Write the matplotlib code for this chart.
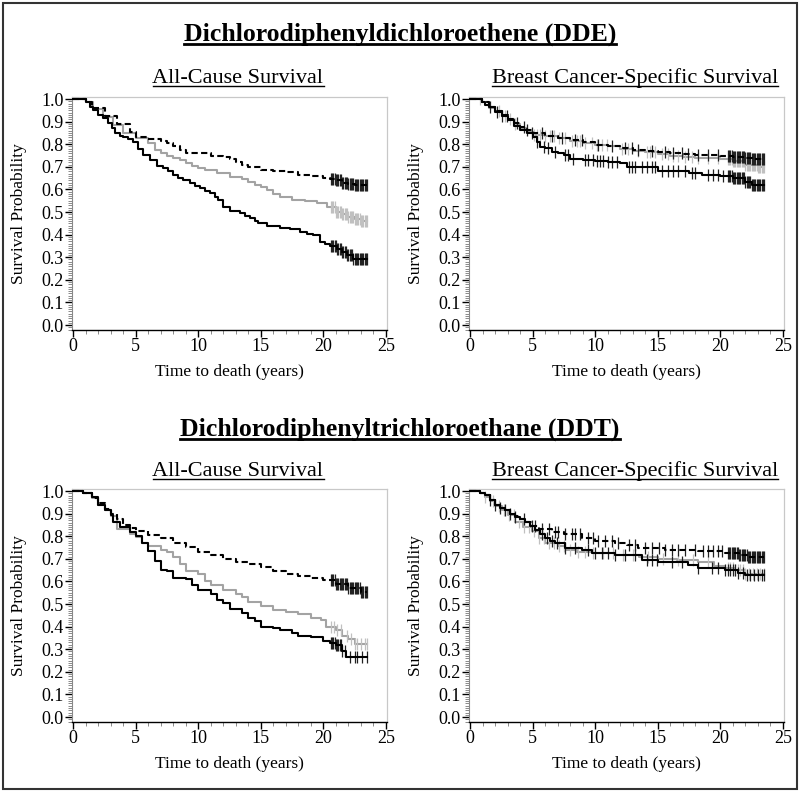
import numpy as np
import matplotlib
matplotlib.use("Agg")
import matplotlib.pyplot as plt
from matplotlib.lines import Line2D
from matplotlib.patches import Rectangle
from matplotlib.ticker import MultipleLocator, FormatStrFormatter

plt.rcParams["font.family"] = ["Liberation Serif", "DejaVu Serif"]

# ---- data (time in years, survival probability) ----
follow_up_end = 23.5

# DDE, all-cause survival
dde_acs_black_t = [0, 1.0, 1.3, 1.6, 2.0, 2.4, 2.8, 3.1, 3.3, 3.7, 4.0, 4.4, 4.8, 5.2, 5.6, 6.1, 6.7, 7.2, 7.6, 8.0,
                   8.4, 8.8, 9.3, 9.7, 10.1, 10.5, 10.9, 11.3, 11.6, 12.0, 12.5, 13.3, 13.7, 14.1, 14.5, 14.8, 15.5,
                   16.5, 17.3, 18.1, 18.7, 19.2, 19.7, 20.1, 20.5, 21.1, 21.5, 21.9, 22.4]
dde_acs_black_s = [1.0, 0.985, 0.965, 0.95, 0.93, 0.914, 0.895, 0.87, 0.848, 0.838, 0.833, 0.822, 0.811, 0.78, 0.752,
                   0.73, 0.705, 0.696, 0.68, 0.664, 0.652, 0.642, 0.63, 0.617, 0.605, 0.594, 0.583, 0.568, 0.553,
                   0.524, 0.506, 0.494, 0.483, 0.472, 0.46, 0.45, 0.438, 0.43, 0.423, 0.41, 0.404, 0.398, 0.369,
                   0.36, 0.35, 0.335, 0.322, 0.31, 0.29]
dde_acs_gray_t = [0, 1.0, 1.6, 2.4, 3.2, 4.0, 5.0, 6.0, 6.5, 7.0, 7.5, 8.0, 8.5, 9.0, 9.5, 10.0, 10.5, 11.5, 12.5,
                  13.5, 14.0, 14.5, 15.0, 15.5, 16.0, 16.5, 17.5, 18.5, 19.5, 20.3, 21.0, 21.5, 22.0, 22.5, 23.0]
dde_acs_gray_s = [1.0, 0.985, 0.955, 0.92, 0.885, 0.848, 0.826, 0.804, 0.774, 0.762, 0.748, 0.74, 0.73, 0.718, 0.705,
                  0.695, 0.686, 0.674, 0.656, 0.645, 0.635, 0.619, 0.61, 0.597, 0.58, 0.565, 0.553, 0.549, 0.538,
                  0.524, 0.501, 0.49, 0.48, 0.47, 0.462]
dde_acs_dash_t = [0, 1.0, 1.5, 2.5, 3.5, 4.5, 5.0, 6.0, 7.0, 7.5, 8.0, 8.5, 9.0, 10.0, 11.0, 12.0, 12.5, 13.0, 13.5,
                  14.0, 15.0, 16.0, 17.0, 18.0, 19.0, 20.0, 20.5, 21.0, 21.5, 22.0, 22.5]
dde_acs_dash_s = [1.0, 0.985, 0.96, 0.925, 0.89, 0.855, 0.833, 0.822, 0.815, 0.805, 0.79, 0.775, 0.762, 0.76, 0.748,
                  0.742, 0.735, 0.72, 0.71, 0.70, 0.688, 0.683, 0.675, 0.665, 0.66, 0.652, 0.645, 0.64, 0.63, 0.625,
                  0.618]

# DDE, breast cancer-specific survival
dde_bc_black_t = [0, 0.9, 1.2, 1.5, 2.0, 2.5, 3.0, 3.5, 4.0, 4.5, 5.0, 5.3, 5.6, 6.0, 6.5, 7.0, 7.5, 8.0, 9.0, 10.0,
                  11.0, 12.0, 12.5, 14.0, 15.0, 17.5, 18.5, 20.0, 21.0, 22.0, 22.5]
dde_bc_black_s = [1.0, 0.985, 0.975, 0.966, 0.944, 0.925, 0.907, 0.88, 0.863, 0.851, 0.833, 0.81, 0.789, 0.782,
                  0.767, 0.76, 0.752, 0.735, 0.73, 0.727, 0.723, 0.715, 0.70, 0.698, 0.681, 0.674, 0.664, 0.659,
                  0.649, 0.634, 0.62]
dde_bc_gray_t = [0, 0.9, 1.5, 2.0, 2.5, 3.0, 3.5, 4.0, 4.5, 5.0, 6.0, 7.0, 8.0, 9.0, 10.0, 11.0, 12.0, 13.0, 14.0,
                 15.0, 16.0, 17.0, 18.0, 19.0, 20.0, 21.0, 22.0, 23.0]
dde_bc_gray_s = [1.0, 0.985, 0.962, 0.945, 0.925, 0.91, 0.89, 0.87, 0.855, 0.84, 0.835, 0.828, 0.815, 0.805, 0.795,
                 0.79, 0.78, 0.77, 0.765, 0.755, 0.75, 0.745, 0.74, 0.738, 0.733, 0.725, 0.71, 0.70]
dde_bc_dash_t = [0, 0.9, 1.5, 2.0, 2.5, 3.0, 3.5, 4.0, 4.5, 5.0, 6.0, 7.0, 8.0, 9.0, 10.0, 11.0, 12.0, 13.0, 14.0,
                 15.0, 16.0, 17.0, 18.0, 20.0, 21.0, 22.0, 22.5]
dde_bc_dash_s = [1.0, 0.985, 0.965, 0.948, 0.93, 0.912, 0.895, 0.878, 0.865, 0.85, 0.835, 0.828, 0.818, 0.81, 0.798,
                 0.792, 0.785, 0.775, 0.77, 0.764, 0.76, 0.756, 0.752, 0.75, 0.745, 0.74, 0.735]

# DDT, all-cause survival
ddt_acs_black_t = [0, 0.8, 1.5, 2.0, 2.5, 3.0, 3.2, 3.7, 4.5, 5.0, 5.5, 6.0, 6.5, 7.0, 7.5, 8.0, 9.0, 9.5, 10.0, 11.0,
                   11.5, 12.0, 12.5, 13.5, 14.0, 14.5, 15.0, 16.0, 16.5, 17.5, 18.0, 19.0, 20.0, 20.5, 21.0, 21.5,
                   21.8]
ddt_acs_black_s = [1.0, 0.99, 0.975, 0.938, 0.916, 0.894, 0.865, 0.84, 0.817, 0.80, 0.77, 0.735, 0.69, 0.652, 0.645,
                   0.616, 0.611, 0.586, 0.562, 0.543, 0.52, 0.506, 0.477, 0.462, 0.44, 0.425, 0.40, 0.396, 0.386,
                   0.374, 0.359, 0.352, 0.337, 0.326, 0.318, 0.29, 0.264]
ddt_acs_gray_t = [0, 0.8, 1.5, 2.0, 2.5, 3.0, 3.5, 4.5, 5.0, 5.5, 6.0, 7.0, 7.5, 8.0, 8.5, 9.0, 10.0, 10.5, 11.0, 12.0,
                  13.0, 13.5, 14.0, 15.0, 16.0, 17.0, 18.0, 19.0, 19.8, 20.2, 21.0, 21.5, 22.0, 22.5]
ddt_acs_gray_s = [1.0, 0.99, 0.97, 0.94, 0.915, 0.89, 0.83, 0.81, 0.795, 0.77, 0.757, 0.74, 0.73, 0.71, 0.675, 0.645,
                  0.635, 0.60, 0.585, 0.56, 0.545, 0.53, 0.51, 0.49, 0.475, 0.465, 0.455, 0.44, 0.43, 0.40, 0.385,
                  0.36, 0.345, 0.325]
ddt_acs_dash_t = [0, 0.8, 1.5, 2.0, 2.5, 3.0, 3.5, 4.0, 4.5, 5.0, 6.0, 7.0, 8.0, 9.0, 10.0, 11.0, 12.0, 13.0, 14.0,
                  15.0, 16.0, 17.0, 18.0, 19.0, 20.0, 21.0, 22.0, 23.0]
ddt_acs_dash_s = [1.0, 0.99, 0.97, 0.945, 0.92, 0.9, 0.875, 0.85, 0.835, 0.822, 0.805, 0.79, 0.772, 0.752, 0.73,
                  0.715, 0.70, 0.688, 0.675, 0.662, 0.648, 0.635, 0.625, 0.615, 0.605, 0.59, 0.57, 0.555]

# DDT, breast cancer-specific survival
ddt_bc_black_t = [0, 0.8, 1.2, 1.6, 2.0, 2.4, 2.8, 3.2, 3.6, 4.0, 4.4, 4.8, 5.2, 5.6, 6.0, 6.4, 6.8, 7.6, 8.9, 9.7,
                  11.6, 13.7, 15.0, 17.4, 18.2, 20.4, 21.4, 22.0]
ddt_bc_black_s = [1.0, 0.99, 0.982, 0.96, 0.938, 0.925, 0.916, 0.9, 0.887, 0.875, 0.865, 0.845, 0.828, 0.81, 0.792,
                  0.78, 0.77, 0.748, 0.74, 0.726, 0.716, 0.696, 0.686, 0.674, 0.66, 0.652, 0.638, 0.627]
ddt_bc_gray_t = [0, 0.8, 1.2, 1.6, 2.0, 2.5, 3.0, 3.6, 4.2, 4.9, 5.5, 6.0, 7.0, 7.6, 8.5, 9.7, 11.6, 13.5, 15.0,
                 16.5, 18.2, 19.5, 20.4, 21.2, 22.0]
ddt_bc_gray_s = [1.0, 0.99, 0.975, 0.955, 0.935, 0.915, 0.895, 0.865, 0.84, 0.821, 0.79, 0.77, 0.755, 0.74, 0.732,
                 0.726, 0.718, 0.71, 0.70, 0.695, 0.686, 0.67, 0.66, 0.65, 0.635]
ddt_bc_dash_t = [0, 0.8, 1.2, 1.6, 2.0, 2.4, 2.8, 3.2, 3.6, 4.0, 4.4, 4.9, 5.5, 6.5, 7.5, 8.9, 10.0, 11.6, 12.5,
                 13.4, 15.6, 18.2, 20.4, 21.5, 22.2]
ddt_bc_dash_s = [1.0, 0.99, 0.982, 0.96, 0.94, 0.926, 0.917, 0.9, 0.89, 0.875, 0.862, 0.845, 0.83, 0.82, 0.81,
                 0.792, 0.78, 0.77, 0.76, 0.748, 0.74, 0.735, 0.726, 0.718, 0.71]

# censoring times
admin_cens = [20.6, 20.7, 20.8, 20.9, 21.0, 21.1, 21.2, 21.3, 21.4, 21.5, 21.6, 21.7, 21.8, 21.9, 22.0,
              22.1, 22.2, 22.3, 22.4, 22.5, 22.6, 22.7, 22.8, 22.9, 23.0, 23.1, 23.2, 23.3, 23.4, 23.5]
ddt_acs_black_cens = [20.6, 20.7, 20.8, 20.9, 21.0, 21.1, 21.2, 21.3, 21.4, 21.5, 21.7, 22.1, 22.5, 22.7, 23.1, 23.5]
ddt_acs_gray_cens = [20.6, 20.85, 21.1, 21.4, 21.9, 22.2, 22.5, 22.7, 23.0, 23.3, 23.5]
dde_bc_black_cens = [1.6, 2.1, 2.5, 2.9, 4.9, 5.3, 5.9, 6.25, 6.8, 7.6, 7.85, 8.25, 9.2, 9.45, 9.85, 10.1, 10.4,
                     10.65, 11.05, 11.3, 11.7, 12.65, 12.9, 13.2, 13.7, 14.1, 14.5, 14.8, 15.3, 15.8, 16.2, 16.6,
                     17.2, 17.7, 18.0, 19.0, 19.4, 19.8, 20.2]
dde_bc_gray_cens = [0.8, 2.3, 2.8, 3.2, 3.6, 5.1, 5.3, 5.6, 6.0, 6.4, 6.7, 7.1, 7.6, 8.1, 8.5, 8.8, 9.2, 9.7, 10.1,
                    10.5, 10.9, 12.1, 12.6, 13.4, 14.1, 14.4, 14.8, 15.3, 15.8, 16.2, 16.6, 17.2, 17.7, 18.2, 19.0,
                    19.8]
dde_bc_dash_cens = [3.7, 4.3, 4.5, 5.7, 6.5, 7.3, 8.4, 8.9, 10.25, 11.3, 12.4, 12.9, 13.4, 14.5, 15.6, 16.2, 16.9,
                    17.4, 18.2, 19.0, 19.8]
ddt_bc_black_cens = [1.6, 2.0, 2.4, 2.8, 3.2, 3.6, 4.26, 5.7, 6.1, 6.5, 6.9, 7.6, 8.4, 9.45, 10.0, 10.5, 11.05,
                     11.6, 12.4, 13.2, 14.1, 14.5, 14.9, 16.1, 16.9, 18.2, 19.3, 19.8, 20.4, 20.6, 20.8, 21.0,
                     21.2, 21.4, 21.8, 22.1, 22.4, 22.7, 23.0, 23.3, 23.5]
ddt_bc_gray_cens = [1.2, 1.8, 2.3, 2.7, 3.1, 3.5, 3.9, 4.3, 4.7, 5.1, 5.5, 5.9, 6.3, 6.7, 7.1, 7.5, 8.0, 8.6, 9.2,
                    9.8, 10.6, 11.4, 12.2, 13.0, 14.2, 15.4, 16.6, 17.8, 19.0, 20.6, 20.8, 21.0, 21.2, 21.4, 21.6,
                    21.8, 22.0, 22.3, 22.6, 22.9, 23.2, 23.5]
ddt_bc_dash_cens = [4.9, 5.2, 5.7, 6.3, 6.8, 7.05, 7.6, 8.1, 8.4, 8.8, 9.45, 9.85, 10.25, 10.8, 11.3, 11.85, 12.65,
                    13.2, 14.0, 14.5, 15.05, 15.6, 16.1, 16.6, 17.2, 18.0, 18.6, 19.0, 19.4, 19.8, 20.1]

BLACK = "black"
GRAY = "#a3a3a3"

panels = [
    ("All-Cause Survival", [
        (dde_acs_black_t, dde_acs_black_s, admin_cens, BLACK, "-"),
        (dde_acs_gray_t, dde_acs_gray_s, admin_cens, GRAY, "-"),
        (dde_acs_dash_t, dde_acs_dash_s, admin_cens, BLACK, "--"),
    ]),
    ("Breast Cancer-Specific Survival", [
        (dde_bc_gray_t, dde_bc_gray_s, dde_bc_gray_cens + admin_cens, GRAY, "-"),
        (dde_bc_black_t, dde_bc_black_s, dde_bc_black_cens + admin_cens, BLACK, "-"),
        (dde_bc_dash_t, dde_bc_dash_s, dde_bc_dash_cens + admin_cens, BLACK, "--"),
    ]),
    ("All-Cause Survival", [
        (ddt_acs_black_t, ddt_acs_black_s, ddt_acs_black_cens, BLACK, "-"),
        (ddt_acs_gray_t, ddt_acs_gray_s, ddt_acs_gray_cens, GRAY, "-"),
        (ddt_acs_dash_t, ddt_acs_dash_s, admin_cens, BLACK, "--"),
    ]),
    ("Breast Cancer-Specific Survival", [
        (ddt_bc_gray_t, ddt_bc_gray_s, ddt_bc_gray_cens, GRAY, "-"),
        (ddt_bc_black_t, ddt_bc_black_s, ddt_bc_black_cens, BLACK, "-"),
        (ddt_bc_dash_t, ddt_bc_dash_s, ddt_bc_dash_cens + admin_cens, BLACK, "--"),
    ]),
]

W, H = 800, 792
fig = plt.figure(figsize=(W / 100, H / 100), dpi=100)

# axes boxes in pixels (left, top, right, bottom)
boxes = [(72, 97, 387, 330), (469, 97, 784, 330), (72, 489, 387, 722), (469, 489, 784, 722)]


def step_value(t, s, x):
    i = np.searchsorted(np.asarray(t), x, side="right") - 1
    return np.asarray(s)[i]


for (sub, curves), (l, tp, r, b) in zip(panels, boxes):
    ax = fig.add_axes([l / W, 1 - b / H, (r - l) / W, (b - tp) / H])
    for t, s, cens, col, ls in curves:
        tt = list(t) + [follow_up_end]
        ss = list(s) + [s[-1]]
        dash = (0, (3, 1.6)) if ls == "--" else "-"
        ax.step(tt, ss, where="post", color=col, lw=1.5, ls=dash, zorder=3 if col == BLACK else 2)
        cy = step_value(t, s, np.asarray(cens))
        mcol = "#c0c0c0" if col == GRAY else "#222222"
        ax.plot(cens, cy, ls="none", marker="|", ms=9, mew=0.9, color=mcol, zorder=2)
    ax.set_xlim(-0.1, 25.08)
    ax.set_ylim(-0.022, 1.009)
    ax.xaxis.set_major_locator(MultipleLocator(5))
    ax.xaxis.set_minor_locator(MultipleLocator(1))
    ax.yaxis.set_major_locator(MultipleLocator(0.1))
    ax.yaxis.set_minor_locator(MultipleLocator(0.01))
    ax.yaxis.set_major_formatter(FormatStrFormatter("%.1f"))
    ax.tick_params(which="major", length=5, width=1, labelsize=13, pad=1, color="black")
    ax.tick_params(which="minor", length=3, width=0.6, color="#777777")
    for side in ("top", "right"):
        ax.spines[side].set_color("#c8c8c8")
        ax.spines[side].set_linewidth(0.9)
    ax.spines["left"].set_color("#888888")
    ax.spines["bottom"].set_color("black")
    ax.spines["bottom"].set_linewidth(1.0)
    ax.set_xlabel("Time to death (years)", fontsize=12.5, labelpad=6)
    ax.set_ylabel("Survival Probability", fontsize=12.5, labelpad=10)

# titles (underlined)
heads = []
heads.append((fig.text(0.5, 1 - 41 / H, "Dichlorodiphenyldichloroethene (DDE)", ha="center", va="baseline",
                       fontsize=18.5, fontweight="bold"), 3, 2.0))
heads.append((fig.text(238 / W, 1 - 83 / H, "All-Cause Survival", ha="center", va="baseline", fontsize=16), 3, 1.0))
heads.append((fig.text(635 / W, 1 - 83 / H, "Breast Cancer-Specific Survival", ha="center", va="baseline",
                       fontsize=16), 3, 1.0))
heads.append((fig.text(0.5, 1 - 436 / H, "Dichlorodiphenyltrichloroethane (DDT)", ha="center", va="baseline",
                       fontsize=18.5, fontweight="bold"), 3, 2.0))
heads.append((fig.text(238 / W, 1 - 476 / H, "All-Cause Survival", ha="center", va="baseline", fontsize=16), 3, 1.0))
heads.append((fig.text(635 / W, 1 - 476 / H, "Breast Cancer-Specific Survival", ha="center", va="baseline",
                       fontsize=16), 3, 1.0))

fig.canvas.draw()
rend = fig.canvas.get_renderer()
for txt, off, lw in heads:
    bb = txt.get_window_extent(rend)
    y = txt.get_position()[1] - off / H
    fig.add_artist(Line2D([bb.x0 / W, bb.x1 / W], [y, y], transform=fig.transFigure, color="black", lw=lw))

# outer frame
fig.add_artist(Rectangle((3 / W, 3 / H), 794 / W, 786 / H, transform=fig.transFigure, fill=False,
                         edgecolor="#333333", lw=1.5))

fig.savefig("out.png", dpi=100)
